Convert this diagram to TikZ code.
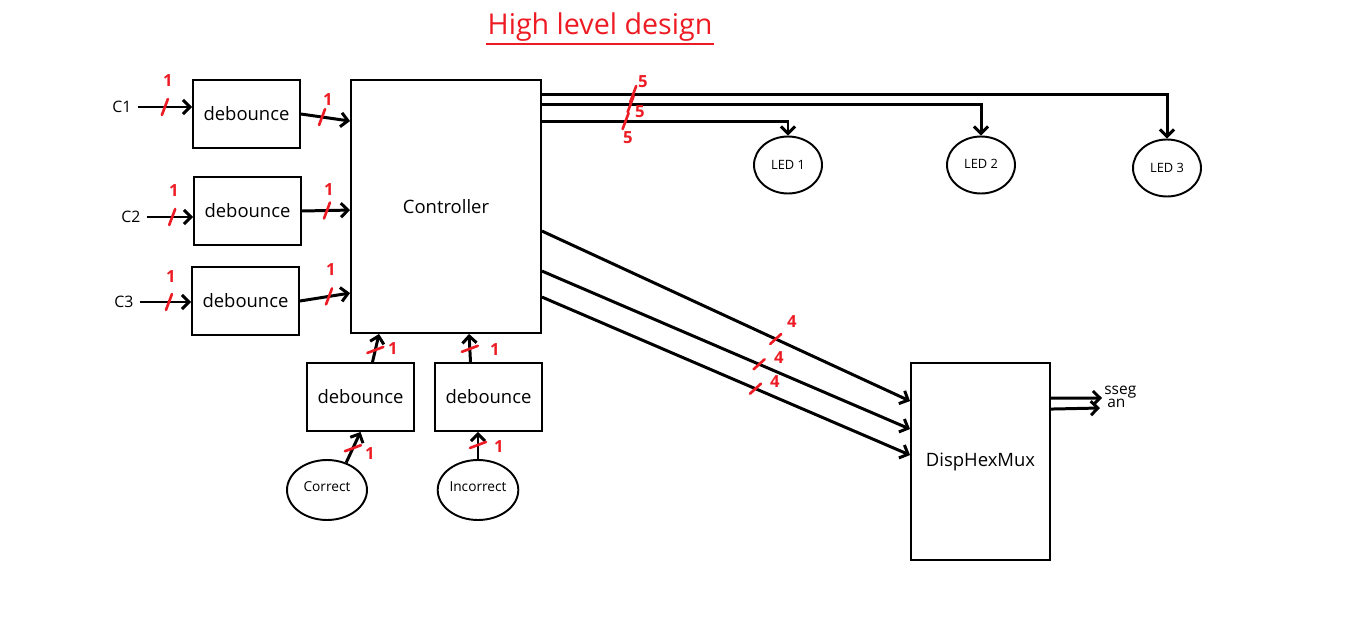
\documentclass[tikz,border=0pt]{standalone}
\usepackage{fontspec}
\setmainfont{Open Sans}
\usetikzlibrary{arrows.meta,positioning,calc,shapes.geometric}
\definecolor{pred}{RGB}{237,28,36}
\tikzset{
  dbblk/.style={draw,rectangle,minimum width=2.14cm,minimum height=1.36cm,line width=1.1pt,inner sep=0pt,font=\fontsize{10.5}{12}\selectfont},
  bigblk/.style={draw,rectangle,line width=1.1pt,inner sep=0pt,font=\fontsize{10.5}{12}\selectfont},
  led/.style={draw,ellipse,minimum width=1.36cm,minimum height=1.14cm,line width=1.1pt,inner sep=0pt,font=\fontsize{7.3}{9}\selectfont},
  btn/.style={draw,ellipse,minimum width=1.6cm,minimum height=1.2cm,line width=1.1pt,inner sep=0pt,font=\fontsize{7.8}{9}\selectfont},
  inlbl/.style={font=\fontsize{9}{11}\selectfont},
  outlbl/.style={font=\fontsize{8.8}{9}\selectfont,inner sep=0pt,anchor=west},
  ttl/.style={text=pred,font=\fontsize{16.3}{19}\selectfont,inner sep=1pt},
  arr/.style={-{Straight Barb[length=4pt,width=8pt]},line width=1.7pt},
  busmk/.style={pred,line width=1.5pt,line cap=round},
  buslbl/.style={text=pred,font=\fontsize{9.5}{10}\selectfont\bfseries,inner sep=0pt}
}
\begin{document}
\begin{tikzpicture}[x=0.02cm,y=-0.02cm]
  \useasboundingbox (0,0) rectangle (1350,629);
  % Title
  \node[ttl] (title) at (600,27) {High level design};
  \draw[pred, line width=1.2pt] ($(title.south west)+(0,1)$) -- ($(title.south east)+(0,1)$);

  % Debounce blocks
  \node[dbblk] (db1) at (246.5,114) {debounce};
  \node[dbblk] (db2) at (247.5,211) {debounce};
  \node[dbblk] (db3) at (245.5,301) {debounce};
  \node[dbblk] (db4) at (360.5,397) {debounce};
  \node[dbblk] (db5) at (488.5,397) {debounce};

  % Controller and display
  \node[bigblk, minimum width=3.8cm, minimum height=5.06cm] (ctrl) at (446,206.5) {Controller};
  \node[bigblk, minimum width=2.78cm, minimum height=3.94cm] (disp) at (980.5,461.5) {DispHexMux};

  % Inputs
  \node[inlbl] (c1) at (122,107) {C1};
  \node[inlbl] (c2) at (131,217) {C2};
  \node[inlbl] (c3) at (124,302) {C3};
  \node[btn] (cor) at (327,490) {\raisebox{4pt}{Correct}};
  \node[btn] (inc) at (478,490) {\raisebox{4pt}{Incorrect}};

  % LEDs
  \node[led] (led1) at (788,165) {LED 1};
  \node[led] (led2) at (981,165) {\raisebox{1pt}{LED 2}};
  \node[led] (led3) at (1167,168) {LED 3};

  % Input wires
  \draw[arr] (c1.east) -- coordinate[pos=.5] (b1) (c1.east -| db1.west);
  \draw[arr] (c2.east) -- coordinate[pos=.55] (b2) (c2.east -| db2.west);
  \draw[arr] (c3.east) -- coordinate[pos=.57] (b3) (c3.east -| db3.west);
  \draw[arr] (db1.east) -- coordinate[pos=.43] (b4) ($(ctrl.north west)+(0,42)$);
  \draw[arr] (db2.east) -- coordinate[pos=.52] (b5) ($(ctrl.north west)+(0,131)$);
  \draw[arr] (db3.east) -- coordinate[pos=.58] (b6) ($(ctrl.north west)+(0,214)$);
  \draw[arr] ($(db4.north)+(12,0)$) -- coordinate[pos=.43] (b7) ($(ctrl.south west)+(29,0)$);
  \draw[arr] ($(db5.north)+(-18,0)$) -- coordinate[pos=.47] (b8) ($(ctrl.south west)+(119,0)$);
  \draw[arr] (cor.55) -- coordinate[pos=.47] (b9) (db4.south);
  \draw[arr] (inc.north) -- coordinate[pos=.52] (b10) (inc.north |- db5.south);

  % LED wires
  \draw[arr] ($(ctrl.north east)+(0,15)$) -| coordinate[pos=.073] (b11) (led3.north);
  \draw[arr] ($(ctrl.north east)+(0,25)$) -| coordinate[pos=.101] (b12) (led2.north);
  \draw[arr] ($(ctrl.north east)+(0,42)$) -| coordinate[pos=.17] (b13) (led1.north);

  % Display wires
  \draw[arr] ($(ctrl.north east)+(0,152)$) -- coordinate[pos=.635] (b14) ($(disp.north west)+(0,39)$);
  \draw[arr] ($(ctrl.north east)+(0,192)$) -- coordinate[pos=.59] (b15) ($(disp.north west)+(0,67)$);
  \draw[arr] ($(ctrl.north east)+(0,218)$) -- coordinate[pos=.58] (b16) ($(disp.north west)+(0,93)$);

  % Outputs
  \node[outlbl] (sseg) at (1104,392) {sseg};
  \node[outlbl] (an) at (1107,403) {an};
  \coordinate (sgout) at (1102,398);
  \coordinate (anout) at (1100,408);
  \draw[arr] ($(disp.north east)+(0,36)$) -- (sgout);
  \draw[arr] ($(disp.north east)+(0,47)$) -- (anout);

  % Bus widths
  \foreach \b in {b1,b2,b3,b4,b5,b6,b11,b12,b13}
    \draw[busmk] (\b) ++(-3,8) -- ++(6,-16);
  \foreach \b in {b7,b8,b9,b10}
    \draw[busmk] (\b) ++(-8,3) -- ++(16,-6);
  \foreach \b in {b14,b15,b16}
    \draw[busmk] (\b) ++(-5.5,5) -- ++(11,-10);
  \node[buslbl] (w1) at (168,81) {1};
  \node[buslbl] (w2) at (174,191) {1};
  \node[buslbl] (w3) at (171,277) {1};
  \node[buslbl] (w4) at (328,100) {1};
  \node[buslbl] (w5) at (329,190) {1};
  \node[buslbl] (w6) at (331,270) {1};
  \node[buslbl] (w7) at (393,349) {1};
  \node[buslbl] (w8) at (495,350) {1};
  \node[buslbl] (w9) at (370,454) {1};
  \node[buslbl] (w10) at (499,447) {1};
  \node[buslbl] (w11) at (643,82) {5};
  \node[buslbl] (w12) at (640,112) {5};
  \node[buslbl] (w13) at (628,138) {5};
  \node[buslbl] (w14) at (792,322) {4};
  \node[buslbl] (w15) at (779,358) {4};
  \node[buslbl] (w16) at (775,382) {4};
\end{tikzpicture}
\end{document}
